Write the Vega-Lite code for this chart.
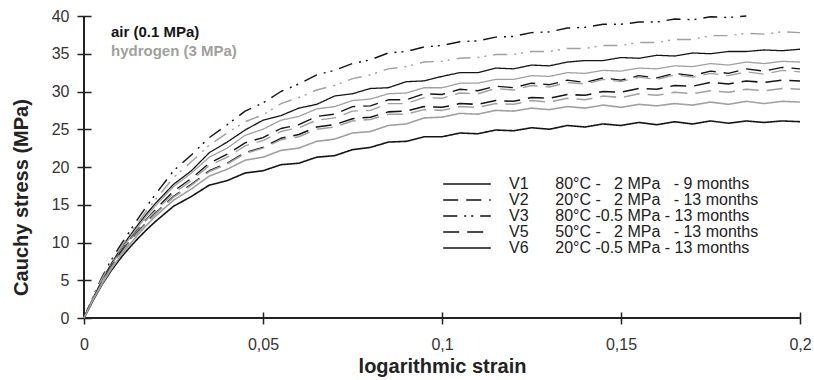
{
  "$schema": "https://vega.github.io/schema/vega-lite/v6.json",
  "width": 716,
  "height": 302,
  "autosize": {"type": "none"},
  "padding": {"left": 84, "top": 16, "right": 14, "bottom": 62},
  "background": "white",
  "config": {
    "view": {"stroke": null},
    "font": "Liberation Sans",
    "axisX": {
      "domain": false, "grid": false,
      "offset": -6, "tickSize": 12, "tickWidth": 1.5, "tickColor": "#222",
      "labelFontSize": 16, "labelColor": "#333", "labelPadding": 12, "labelFlush": false,
      "titleFontSize": 20, "titleFontWeight": "bold", "titleColor": "#222", "titlePadding": 4
    },
    "axisY": {
      "domain": false, "grid": false,
      "offset": -7, "tickSize": 14, "tickWidth": 1.5, "tickColor": "#222",
      "labelFontSize": 16, "labelColor": "#333", "labelPadding": 8,
      "titleFontSize": 20, "titleFontWeight": "bold", "titleColor": "#222", "titlePadding": 20, "titleY": 181
    }
  },
  "datasets": {
    "curves": [
      {"v":"V1","e":"air","x":0,"y":0},{"v":"V1","e":"air","x":0.0025,"y":2.6},{"v":"V1","e":"air","x":0.005,"y":5.0},{"v":"V1","e":"air","x":0.0075,"y":7.1},{"v":"V1","e":"air","x":0.01,"y":9.0},{"v":"V1","e":"air","x":0.0125,"y":10.7},{"v":"V1","e":"air","x":0.015,"y":12.3},{"v":"V1","e":"air","x":0.0175,"y":13.8},{"v":"V1","e":"air","x":0.02,"y":15.2},{"v":"V1","e":"air","x":0.025,"y":17.7},{"v":"V1","e":"air","x":0.03,"y":19.5},{"v":"V1","e":"air","x":0.035,"y":21.9},{"v":"V1","e":"air","x":0.04,"y":23.3},{"v":"V1","e":"air","x":0.045,"y":24.9},{"v":"V1","e":"air","x":0.05,"y":26.2},{"v":"V1","e":"air","x":0.055,"y":26.8},{"v":"V1","e":"air","x":0.06,"y":27.8},{"v":"V1","e":"air","x":0.065,"y":28.3},{"v":"V1","e":"air","x":0.07,"y":29.4},{"v":"V1","e":"air","x":0.075,"y":29.7},{"v":"V1","e":"air","x":0.08,"y":30.4},{"v":"V1","e":"air","x":0.085,"y":30.5},{"v":"V1","e":"air","x":0.09,"y":31.3},{"v":"V1","e":"air","x":0.095,"y":31.4},{"v":"V1","e":"air","x":0.1,"y":32.0},{"v":"V1","e":"air","x":0.105,"y":32.5},{"v":"V1","e":"air","x":0.11,"y":32.5},{"v":"V1","e":"air","x":0.115,"y":33.1},{"v":"V1","e":"air","x":0.12,"y":33.0},{"v":"V1","e":"air","x":0.125,"y":33.5},{"v":"V1","e":"air","x":0.13,"y":33.4},{"v":"V1","e":"air","x":0.135,"y":33.9},{"v":"V1","e":"air","x":0.14,"y":34.1},{"v":"V1","e":"air","x":0.145,"y":34.1},{"v":"V1","e":"air","x":0.15,"y":34.5},{"v":"V1","e":"air","x":0.155,"y":34.4},{"v":"V1","e":"air","x":0.16,"y":34.8},{"v":"V1","e":"air","x":0.165,"y":34.7},{"v":"V1","e":"air","x":0.17,"y":35.1},{"v":"V1","e":"air","x":0.175,"y":35.0},{"v":"V1","e":"air","x":0.18,"y":35.3},{"v":"V1","e":"air","x":0.185,"y":35.3},{"v":"V1","e":"air","x":0.19,"y":35.5},{"v":"V1","e":"air","x":0.195,"y":35.4},{"v":"V1","e":"air","x":0.2,"y":35.6},

      {"v":"V1","e":"h2","x":0,"y":0},{"v":"V1","e":"h2","x":0.0025,"y":2.5},{"v":"V1","e":"h2","x":0.005,"y":4.8},{"v":"V1","e":"h2","x":0.0075,"y":6.9},{"v":"V1","e":"h2","x":0.01,"y":8.7},{"v":"V1","e":"h2","x":0.0125,"y":10.4},{"v":"V1","e":"h2","x":0.015,"y":12.0},{"v":"V1","e":"h2","x":0.0175,"y":13.5},{"v":"V1","e":"h2","x":0.02,"y":14.9},{"v":"V1","e":"h2","x":0.025,"y":17.4},{"v":"V1","e":"h2","x":0.03,"y":19.2},{"v":"V1","e":"h2","x":0.035,"y":21.3},{"v":"V1","e":"h2","x":0.04,"y":22.5},{"v":"V1","e":"h2","x":0.045,"y":24.2},{"v":"V1","e":"h2","x":0.05,"y":25.0},{"v":"V1","e":"h2","x":0.055,"y":26.2},{"v":"V1","e":"h2","x":0.06,"y":26.7},{"v":"V1","e":"h2","x":0.065,"y":27.7},{"v":"V1","e":"h2","x":0.07,"y":28.0},{"v":"V1","e":"h2","x":0.075,"y":28.8},{"v":"V1","e":"h2","x":0.08,"y":29.0},{"v":"V1","e":"h2","x":0.085,"y":29.7},{"v":"V1","e":"h2","x":0.09,"y":29.8},{"v":"V1","e":"h2","x":0.095,"y":30.5},{"v":"V1","e":"h2","x":0.1,"y":30.5},{"v":"V1","e":"h2","x":0.105,"y":31.1},{"v":"V1","e":"h2","x":0.11,"y":31.1},{"v":"V1","e":"h2","x":0.115,"y":31.6},{"v":"V1","e":"h2","x":0.12,"y":31.6},{"v":"V1","e":"h2","x":0.125,"y":32.1},{"v":"V1","e":"h2","x":0.13,"y":32.0},{"v":"V1","e":"h2","x":0.135,"y":32.5},{"v":"V1","e":"h2","x":0.14,"y":32.4},{"v":"V1","e":"h2","x":0.145,"y":32.8},{"v":"V1","e":"h2","x":0.15,"y":32.7},{"v":"V1","e":"h2","x":0.155,"y":33.1},{"v":"V1","e":"h2","x":0.16,"y":33.0},{"v":"V1","e":"h2","x":0.165,"y":33.4},{"v":"V1","e":"h2","x":0.17,"y":33.3},{"v":"V1","e":"h2","x":0.175,"y":33.7},{"v":"V1","e":"h2","x":0.18,"y":33.5},{"v":"V1","e":"h2","x":0.185,"y":33.9},{"v":"V1","e":"h2","x":0.19,"y":33.7},{"v":"V1","e":"h2","x":0.195,"y":34.0},{"v":"V1","e":"h2","x":0.2,"y":33.9},

      {"v":"V2","e":"air","x":0,"y":0},{"v":"V2","e":"air","x":0.0025,"y":2.5},{"v":"V2","e":"air","x":0.005,"y":4.8},{"v":"V2","e":"air","x":0.0075,"y":6.8},{"v":"V2","e":"air","x":0.01,"y":8.6},{"v":"V2","e":"air","x":0.0125,"y":10.2},{"v":"V2","e":"air","x":0.015,"y":11.7},{"v":"V2","e":"air","x":0.0175,"y":13.1},{"v":"V2","e":"air","x":0.02,"y":14.4},{"v":"V2","e":"air","x":0.025,"y":16.8},{"v":"V2","e":"air","x":0.03,"y":18.5},{"v":"V2","e":"air","x":0.035,"y":20.5},{"v":"V2","e":"air","x":0.04,"y":21.7},{"v":"V2","e":"air","x":0.045,"y":23.2},{"v":"V2","e":"air","x":0.05,"y":23.9},{"v":"V2","e":"air","x":0.055,"y":25.1},{"v":"V2","e":"air","x":0.06,"y":25.6},{"v":"V2","e":"air","x":0.065,"y":26.7},{"v":"V2","e":"air","x":0.07,"y":27.0},{"v":"V2","e":"air","x":0.075,"y":28.0},{"v":"V2","e":"air","x":0.08,"y":28.1},{"v":"V2","e":"air","x":0.085,"y":28.9},{"v":"V2","e":"air","x":0.09,"y":28.9},{"v":"V2","e":"air","x":0.095,"y":29.7},{"v":"V2","e":"air","x":0.1,"y":29.6},{"v":"V2","e":"air","x":0.105,"y":30.3},{"v":"V2","e":"air","x":0.11,"y":30.1},{"v":"V2","e":"air","x":0.115,"y":30.7},{"v":"V2","e":"air","x":0.12,"y":30.5},{"v":"V2","e":"air","x":0.125,"y":31.1},{"v":"V2","e":"air","x":0.13,"y":30.9},{"v":"V2","e":"air","x":0.135,"y":31.5},{"v":"V2","e":"air","x":0.14,"y":31.2},{"v":"V2","e":"air","x":0.145,"y":31.8},{"v":"V2","e":"air","x":0.15,"y":31.5},{"v":"V2","e":"air","x":0.155,"y":32.1},{"v":"V2","e":"air","x":0.16,"y":31.8},{"v":"V2","e":"air","x":0.165,"y":32.4},{"v":"V2","e":"air","x":0.17,"y":32.1},{"v":"V2","e":"air","x":0.175,"y":32.7},{"v":"V2","e":"air","x":0.18,"y":32.4},{"v":"V2","e":"air","x":0.185,"y":33.0},{"v":"V2","e":"air","x":0.19,"y":32.7},{"v":"V2","e":"air","x":0.195,"y":33.2},{"v":"V2","e":"air","x":0.2,"y":33.0},

      {"v":"V2","e":"h2","x":0,"y":0},{"v":"V2","e":"h2","x":0.0025,"y":2.5},{"v":"V2","e":"h2","x":0.005,"y":4.7},{"v":"V2","e":"h2","x":0.0075,"y":6.7},{"v":"V2","e":"h2","x":0.01,"y":8.5},{"v":"V2","e":"h2","x":0.0125,"y":10.1},{"v":"V2","e":"h2","x":0.015,"y":11.6},{"v":"V2","e":"h2","x":0.0175,"y":13.0},{"v":"V2","e":"h2","x":0.02,"y":14.2},{"v":"V2","e":"h2","x":0.025,"y":16.5},{"v":"V2","e":"h2","x":0.03,"y":18.2},{"v":"V2","e":"h2","x":0.035,"y":20.2},{"v":"V2","e":"h2","x":0.04,"y":21.3},{"v":"V2","e":"h2","x":0.045,"y":22.8},{"v":"V2","e":"h2","x":0.05,"y":23.5},{"v":"V2","e":"h2","x":0.055,"y":24.7},{"v":"V2","e":"h2","x":0.06,"y":25.2},{"v":"V2","e":"h2","x":0.065,"y":26.2},{"v":"V2","e":"h2","x":0.07,"y":26.5},{"v":"V2","e":"h2","x":0.075,"y":27.4},{"v":"V2","e":"h2","x":0.08,"y":27.5},{"v":"V2","e":"h2","x":0.085,"y":28.4},{"v":"V2","e":"h2","x":0.09,"y":28.4},{"v":"V2","e":"h2","x":0.095,"y":29.2},{"v":"V2","e":"h2","x":0.1,"y":29.1},{"v":"V2","e":"h2","x":0.105,"y":29.8},{"v":"V2","e":"h2","x":0.11,"y":29.7},{"v":"V2","e":"h2","x":0.115,"y":30.4},{"v":"V2","e":"h2","x":0.12,"y":30.2},{"v":"V2","e":"h2","x":0.125,"y":30.8},{"v":"V2","e":"h2","x":0.13,"y":30.6},{"v":"V2","e":"h2","x":0.135,"y":31.2},{"v":"V2","e":"h2","x":0.14,"y":31.0},{"v":"V2","e":"h2","x":0.145,"y":31.6},{"v":"V2","e":"h2","x":0.15,"y":31.3},{"v":"V2","e":"h2","x":0.155,"y":31.9},{"v":"V2","e":"h2","x":0.16,"y":31.6},{"v":"V2","e":"h2","x":0.165,"y":32.2},{"v":"V2","e":"h2","x":0.17,"y":31.9},{"v":"V2","e":"h2","x":0.175,"y":32.4},{"v":"V2","e":"h2","x":0.18,"y":32.1},{"v":"V2","e":"h2","x":0.185,"y":32.6},{"v":"V2","e":"h2","x":0.19,"y":32.3},{"v":"V2","e":"h2","x":0.195,"y":32.8},{"v":"V2","e":"h2","x":0.2,"y":32.6},

      {"v":"V3","e":"air","x":0,"y":0},{"v":"V3","e":"air","x":0.0025,"y":2.8},{"v":"V3","e":"air","x":0.005,"y":5.4},{"v":"V3","e":"air","x":0.0075,"y":7.6},{"v":"V3","e":"air","x":0.01,"y":9.5},{"v":"V3","e":"air","x":0.0125,"y":11.3},{"v":"V3","e":"air","x":0.015,"y":13.1},{"v":"V3","e":"air","x":0.0175,"y":14.8},{"v":"V3","e":"air","x":0.02,"y":16.4},{"v":"V3","e":"air","x":0.025,"y":19.5},{"v":"V3","e":"air","x":0.03,"y":21.6},{"v":"V3","e":"air","x":0.035,"y":23.9},{"v":"V3","e":"air","x":0.04,"y":25.6},{"v":"V3","e":"air","x":0.045,"y":27.4},{"v":"V3","e":"air","x":0.05,"y":28.5},{"v":"V3","e":"air","x":0.055,"y":30.0},{"v":"V3","e":"air","x":0.06,"y":31.0},{"v":"V3","e":"air","x":0.065,"y":32.2},{"v":"V3","e":"air","x":0.07,"y":32.8},{"v":"V3","e":"air","x":0.075,"y":33.7},{"v":"V3","e":"air","x":0.08,"y":34.2},{"v":"V3","e":"air","x":0.085,"y":35.1},{"v":"V3","e":"air","x":0.09,"y":35.3},{"v":"V3","e":"air","x":0.095,"y":35.9},{"v":"V3","e":"air","x":0.1,"y":36.1},{"v":"V3","e":"air","x":0.105,"y":36.6},{"v":"V3","e":"air","x":0.11,"y":36.7},{"v":"V3","e":"air","x":0.115,"y":37.2},{"v":"V3","e":"air","x":0.12,"y":37.3},{"v":"V3","e":"air","x":0.125,"y":37.8},{"v":"V3","e":"air","x":0.13,"y":37.9},{"v":"V3","e":"air","x":0.135,"y":38.4},{"v":"V3","e":"air","x":0.14,"y":38.5},{"v":"V3","e":"air","x":0.145,"y":38.9},{"v":"V3","e":"air","x":0.15,"y":38.9},{"v":"V3","e":"air","x":0.155,"y":39.2},{"v":"V3","e":"air","x":0.16,"y":39.2},{"v":"V3","e":"air","x":0.165,"y":39.6},{"v":"V3","e":"air","x":0.17,"y":39.5},{"v":"V3","e":"air","x":0.175,"y":39.9},{"v":"V3","e":"air","x":0.18,"y":39.8},{"v":"V3","e":"air","x":0.185,"y":40.0},

      {"v":"V3","e":"h2","x":0,"y":0},{"v":"V3","e":"h2","x":0.0025,"y":2.7},{"v":"V3","e":"h2","x":0.005,"y":5.2},{"v":"V3","e":"h2","x":0.0075,"y":7.3},{"v":"V3","e":"h2","x":0.01,"y":9.1},{"v":"V3","e":"h2","x":0.0125,"y":10.9},{"v":"V3","e":"h2","x":0.015,"y":12.6},{"v":"V3","e":"h2","x":0.0175,"y":14.2},{"v":"V3","e":"h2","x":0.02,"y":15.7},{"v":"V3","e":"h2","x":0.025,"y":18.6},{"v":"V3","e":"h2","x":0.03,"y":20.7},{"v":"V3","e":"h2","x":0.035,"y":22.9},{"v":"V3","e":"h2","x":0.04,"y":24.5},{"v":"V3","e":"h2","x":0.045,"y":26.0},{"v":"V3","e":"h2","x":0.05,"y":26.9},{"v":"V3","e":"h2","x":0.055,"y":28.4},{"v":"V3","e":"h2","x":0.06,"y":29.2},{"v":"V3","e":"h2","x":0.065,"y":30.2},{"v":"V3","e":"h2","x":0.07,"y":30.8},{"v":"V3","e":"h2","x":0.075,"y":31.7},{"v":"V3","e":"h2","x":0.08,"y":32.2},{"v":"V3","e":"h2","x":0.085,"y":33.0},{"v":"V3","e":"h2","x":0.09,"y":33.3},{"v":"V3","e":"h2","x":0.095,"y":33.9},{"v":"V3","e":"h2","x":0.1,"y":34.0},{"v":"V3","e":"h2","x":0.105,"y":34.4},{"v":"V3","e":"h2","x":0.11,"y":34.5},{"v":"V3","e":"h2","x":0.115,"y":34.9},{"v":"V3","e":"h2","x":0.12,"y":34.9},{"v":"V3","e":"h2","x":0.125,"y":35.3},{"v":"V3","e":"h2","x":0.13,"y":35.3},{"v":"V3","e":"h2","x":0.135,"y":35.7},{"v":"V3","e":"h2","x":0.14,"y":35.7},{"v":"V3","e":"h2","x":0.145,"y":36.1},{"v":"V3","e":"h2","x":0.15,"y":36.1},{"v":"V3","e":"h2","x":0.155,"y":36.5},{"v":"V3","e":"h2","x":0.16,"y":36.5},{"v":"V3","e":"h2","x":0.165,"y":36.9},{"v":"V3","e":"h2","x":0.17,"y":36.9},{"v":"V3","e":"h2","x":0.175,"y":37.4},{"v":"V3","e":"h2","x":0.18,"y":37.4},{"v":"V3","e":"h2","x":0.185,"y":37.7},{"v":"V3","e":"h2","x":0.19,"y":37.6},{"v":"V3","e":"h2","x":0.195,"y":37.9},{"v":"V3","e":"h2","x":0.2,"y":37.8},

      {"v":"V5","e":"air","x":0,"y":0},{"v":"V5","e":"air","x":0.0025,"y":2.5},{"v":"V5","e":"air","x":0.005,"y":4.7},{"v":"V5","e":"air","x":0.0075,"y":6.7},{"v":"V5","e":"air","x":0.01,"y":8.5},{"v":"V5","e":"air","x":0.0125,"y":10.0},{"v":"V5","e":"air","x":0.015,"y":11.4},{"v":"V5","e":"air","x":0.0175,"y":12.7},{"v":"V5","e":"air","x":0.02,"y":13.9},{"v":"V5","e":"air","x":0.025,"y":16.1},{"v":"V5","e":"air","x":0.03,"y":17.7},{"v":"V5","e":"air","x":0.035,"y":19.5},{"v":"V5","e":"air","x":0.04,"y":20.5},{"v":"V5","e":"air","x":0.045,"y":21.9},{"v":"V5","e":"air","x":0.05,"y":22.6},{"v":"V5","e":"air","x":0.055,"y":23.8},{"v":"V5","e":"air","x":0.06,"y":24.3},{"v":"V5","e":"air","x":0.065,"y":25.3},{"v":"V5","e":"air","x":0.07,"y":25.6},{"v":"V5","e":"air","x":0.075,"y":26.4},{"v":"V5","e":"air","x":0.08,"y":26.6},{"v":"V5","e":"air","x":0.085,"y":27.3},{"v":"V5","e":"air","x":0.09,"y":27.4},{"v":"V5","e":"air","x":0.095,"y":28.0},{"v":"V5","e":"air","x":0.1,"y":27.9},{"v":"V5","e":"air","x":0.105,"y":28.4},{"v":"V5","e":"air","x":0.11,"y":28.3},{"v":"V5","e":"air","x":0.115,"y":28.8},{"v":"V5","e":"air","x":0.12,"y":28.7},{"v":"V5","e":"air","x":0.125,"y":29.2},{"v":"V5","e":"air","x":0.13,"y":29.1},{"v":"V5","e":"air","x":0.135,"y":29.6},{"v":"V5","e":"air","x":0.14,"y":29.5},{"v":"V5","e":"air","x":0.145,"y":30.0},{"v":"V5","e":"air","x":0.15,"y":29.9},{"v":"V5","e":"air","x":0.155,"y":30.4},{"v":"V5","e":"air","x":0.16,"y":30.3},{"v":"V5","e":"air","x":0.165,"y":30.8},{"v":"V5","e":"air","x":0.17,"y":30.7},{"v":"V5","e":"air","x":0.175,"y":31.2},{"v":"V5","e":"air","x":0.18,"y":31.0},{"v":"V5","e":"air","x":0.185,"y":31.4},{"v":"V5","e":"air","x":0.19,"y":31.2},{"v":"V5","e":"air","x":0.195,"y":31.5},{"v":"V5","e":"air","x":0.2,"y":31.4},

      {"v":"V5","e":"h2","x":0,"y":0},{"v":"V5","e":"h2","x":0.0025,"y":2.4},{"v":"V5","e":"h2","x":0.005,"y":4.6},{"v":"V5","e":"h2","x":0.0075,"y":6.6},{"v":"V5","e":"h2","x":0.01,"y":8.3},{"v":"V5","e":"h2","x":0.0125,"y":9.9},{"v":"V5","e":"h2","x":0.015,"y":11.3},{"v":"V5","e":"h2","x":0.0175,"y":12.6},{"v":"V5","e":"h2","x":0.02,"y":13.8},{"v":"V5","e":"h2","x":0.025,"y":16.0},{"v":"V5","e":"h2","x":0.03,"y":17.6},{"v":"V5","e":"h2","x":0.035,"y":19.4},{"v":"V5","e":"h2","x":0.04,"y":20.4},{"v":"V5","e":"h2","x":0.045,"y":21.8},{"v":"V5","e":"h2","x":0.05,"y":22.5},{"v":"V5","e":"h2","x":0.055,"y":23.6},{"v":"V5","e":"h2","x":0.06,"y":24.0},{"v":"V5","e":"h2","x":0.065,"y":25.0},{"v":"V5","e":"h2","x":0.07,"y":25.3},{"v":"V5","e":"h2","x":0.075,"y":26.1},{"v":"V5","e":"h2","x":0.08,"y":26.3},{"v":"V5","e":"h2","x":0.085,"y":27.0},{"v":"V5","e":"h2","x":0.09,"y":27.0},{"v":"V5","e":"h2","x":0.095,"y":27.6},{"v":"V5","e":"h2","x":0.1,"y":27.5},{"v":"V5","e":"h2","x":0.105,"y":28.0},{"v":"V5","e":"h2","x":0.11,"y":27.9},{"v":"V5","e":"h2","x":0.115,"y":28.4},{"v":"V5","e":"h2","x":0.12,"y":28.3},{"v":"V5","e":"h2","x":0.125,"y":28.8},{"v":"V5","e":"h2","x":0.13,"y":28.6},{"v":"V5","e":"h2","x":0.135,"y":29.1},{"v":"V5","e":"h2","x":0.14,"y":28.9},{"v":"V5","e":"h2","x":0.145,"y":29.4},{"v":"V5","e":"h2","x":0.15,"y":29.2},{"v":"V5","e":"h2","x":0.155,"y":29.7},{"v":"V5","e":"h2","x":0.16,"y":29.5},{"v":"V5","e":"h2","x":0.165,"y":29.9},{"v":"V5","e":"h2","x":0.17,"y":29.7},{"v":"V5","e":"h2","x":0.175,"y":30.1},{"v":"V5","e":"h2","x":0.18,"y":29.9},{"v":"V5","e":"h2","x":0.185,"y":30.3},{"v":"V5","e":"h2","x":0.19,"y":30.1},{"v":"V5","e":"h2","x":0.195,"y":30.4},{"v":"V5","e":"h2","x":0.2,"y":30.3},

      {"v":"V6","e":"air","x":0,"y":0},{"v":"V6","e":"air","x":0.0025,"y":2.3},{"v":"V6","e":"air","x":0.005,"y":4.4},{"v":"V6","e":"air","x":0.0075,"y":6.2},{"v":"V6","e":"air","x":0.01,"y":7.8},{"v":"V6","e":"air","x":0.0125,"y":9.2},{"v":"V6","e":"air","x":0.015,"y":10.5},{"v":"V6","e":"air","x":0.0175,"y":11.7},{"v":"V6","e":"air","x":0.02,"y":12.8},{"v":"V6","e":"air","x":0.025,"y":14.8},{"v":"V6","e":"air","x":0.03,"y":16.1},{"v":"V6","e":"air","x":0.035,"y":17.6},{"v":"V6","e":"air","x":0.04,"y":18.2},{"v":"V6","e":"air","x":0.045,"y":19.2},{"v":"V6","e":"air","x":0.05,"y":19.5},{"v":"V6","e":"air","x":0.055,"y":20.3},{"v":"V6","e":"air","x":0.06,"y":20.5},{"v":"V6","e":"air","x":0.065,"y":21.3},{"v":"V6","e":"air","x":0.07,"y":21.5},{"v":"V6","e":"air","x":0.075,"y":22.3},{"v":"V6","e":"air","x":0.08,"y":22.6},{"v":"V6","e":"air","x":0.085,"y":23.3},{"v":"V6","e":"air","x":0.09,"y":23.4},{"v":"V6","e":"air","x":0.095,"y":24.0},{"v":"V6","e":"air","x":0.1,"y":24.0},{"v":"V6","e":"air","x":0.105,"y":24.5},{"v":"V6","e":"air","x":0.11,"y":24.4},{"v":"V6","e":"air","x":0.115,"y":24.9},{"v":"V6","e":"air","x":0.12,"y":24.8},{"v":"V6","e":"air","x":0.125,"y":25.2},{"v":"V6","e":"air","x":0.13,"y":25.0},{"v":"V6","e":"air","x":0.135,"y":25.5},{"v":"V6","e":"air","x":0.14,"y":25.3},{"v":"V6","e":"air","x":0.145,"y":25.7},{"v":"V6","e":"air","x":0.15,"y":25.5},{"v":"V6","e":"air","x":0.155,"y":25.9},{"v":"V6","e":"air","x":0.16,"y":25.6},{"v":"V6","e":"air","x":0.165,"y":26.0},{"v":"V6","e":"air","x":0.17,"y":25.7},{"v":"V6","e":"air","x":0.175,"y":26.1},{"v":"V6","e":"air","x":0.18,"y":25.8},{"v":"V6","e":"air","x":0.185,"y":26.1},{"v":"V6","e":"air","x":0.19,"y":25.9},{"v":"V6","e":"air","x":0.195,"y":26.1},{"v":"V6","e":"air","x":0.2,"y":26.0},

      {"v":"V6","e":"h2","x":0,"y":0},{"v":"V6","e":"h2","x":0.0025,"y":2.4},{"v":"V6","e":"h2","x":0.005,"y":4.5},{"v":"V6","e":"h2","x":0.0075,"y":6.4},{"v":"V6","e":"h2","x":0.01,"y":8.1},{"v":"V6","e":"h2","x":0.0125,"y":9.6},{"v":"V6","e":"h2","x":0.015,"y":11.0},{"v":"V6","e":"h2","x":0.0175,"y":12.3},{"v":"V6","e":"h2","x":0.02,"y":13.5},{"v":"V6","e":"h2","x":0.025,"y":15.6},{"v":"V6","e":"h2","x":0.03,"y":17.1},{"v":"V6","e":"h2","x":0.035,"y":18.8},{"v":"V6","e":"h2","x":0.04,"y":19.7},{"v":"V6","e":"h2","x":0.045,"y":20.9},{"v":"V6","e":"h2","x":0.05,"y":21.3},{"v":"V6","e":"h2","x":0.055,"y":22.2},{"v":"V6","e":"h2","x":0.06,"y":22.5},{"v":"V6","e":"h2","x":0.065,"y":23.4},{"v":"V6","e":"h2","x":0.07,"y":23.7},{"v":"V6","e":"h2","x":0.075,"y":24.5},{"v":"V6","e":"h2","x":0.08,"y":24.7},{"v":"V6","e":"h2","x":0.085,"y":25.5},{"v":"V6","e":"h2","x":0.09,"y":25.7},{"v":"V6","e":"h2","x":0.095,"y":26.5},{"v":"V6","e":"h2","x":0.1,"y":26.6},{"v":"V6","e":"h2","x":0.105,"y":27.1},{"v":"V6","e":"h2","x":0.11,"y":27.0},{"v":"V6","e":"h2","x":0.115,"y":27.5},{"v":"V6","e":"h2","x":0.12,"y":27.4},{"v":"V6","e":"h2","x":0.125,"y":27.8},{"v":"V6","e":"h2","x":0.13,"y":27.6},{"v":"V6","e":"h2","x":0.135,"y":28.0},{"v":"V6","e":"h2","x":0.14,"y":27.8},{"v":"V6","e":"h2","x":0.145,"y":28.2},{"v":"V6","e":"h2","x":0.15,"y":27.9},{"v":"V6","e":"h2","x":0.155,"y":28.3},{"v":"V6","e":"h2","x":0.16,"y":28.1},{"v":"V6","e":"h2","x":0.165,"y":28.4},{"v":"V6","e":"h2","x":0.17,"y":28.2},{"v":"V6","e":"h2","x":0.175,"y":28.6},{"v":"V6","e":"h2","x":0.18,"y":28.3},{"v":"V6","e":"h2","x":0.185,"y":28.7},{"v":"V6","e":"h2","x":0.19,"y":28.4},{"v":"V6","e":"h2","x":0.195,"y":28.7},{"v":"V6","e":"h2","x":0.2,"y":28.6}
    ]
  },
  "layer": [
    {
      "data": {"values": [{}]},
      "mark": {"type": "rule", "color": "#222", "strokeWidth": 2},
      "encoding": {
        "x": {"datum": 0, "type": "quantitative", "scale": {"domain": [0, 0.2], "nice": false, "zero": false},
          "axis": {"title": "logarithmic strain", "values": [0, 0.05, 0.1, 0.15, 0.2], "labelExpr": "replace(toString(datum.value), '.', ',')"}}
      }
    },
    {
      "data": {"values": [{}]},
      "mark": {"type": "rule", "color": "#222", "strokeWidth": 2},
      "encoding": {
        "y": {"datum": 0, "type": "quantitative", "scale": {"domain": [0, 40], "nice": false},
          "axis": {"title": "Cauchy stress (MPa)", "values": [0, 5, 10, 15, 20, 25, 30, 35, 40]}}
      }
    },
    {
      "data": {"name": "curves"},
      "mark": {"type": "line", "strokeCap": "butt", "strokeJoin": "round"},
      "encoding": {
        "x": {
          "field": "x", "type": "quantitative",
          "scale": {"domain": [0, 0.2], "nice": false, "zero": false},
          "axis": {"title": "logarithmic strain", "values": [0, 0.05, 0.1, 0.15, 0.2], "labelExpr": "replace(toString(datum.value), '.', ',')"}
        },
        "y": {
          "field": "y", "type": "quantitative",
          "scale": {"domain": [0, 40], "nice": false},
          "axis": {"title": "Cauchy stress (MPa)", "values": [0, 5, 10, 15, 20, 25, 30, 35, 40]}
        },
        "color": {
          "field": "e", "type": "nominal",
          "scale": {"domain": ["air", "h2"], "range": ["#151515", "#a0a0a0"]},
          "legend": {
            "title": null, "orient": "none", "legendX": 12, "legendY": 8, "padding": 0,
            "symbolSize": 0, "symbolStrokeWidth": 0, "symbolOpacity": 0,
            "labelOffset": 0, "labelFontSize": 15, "labelFontWeight": "bold",
            "labelFont": "Liberation Sans", "rowPadding": 3, "labelLimit": 300,
            "labelExpr": "datum.label == 'air' ? 'air (0.1 MPa)' : 'hydrogen (3 MPa)'",
            "encode": {"labels": {"update": {"fill": {"signal": "datum.value == 'air' ? '#151515' : '#a0a0a0'"}}}}
          }
        },
        "strokeDash": {
          "field": "v", "type": "nominal",
          "scale": {"domain": ["V1", "V2", "V3", "V5", "V6"], "range": [[1, 0], [15, 8], [14, 7, 2, 5, 2, 7], [16, 8], [1, 0]]},
          "legend": {
            "title": null, "orient": "none", "legendX": 375, "legendY": 160, "padding": 0,
            "symbolType": "M-3.4,0H3.4", "symbolSize": 196, "symbolStrokeColor": "#111",
            "symbolStrokeWidth": {"expr": "{'V1':1.5,'V2':2,'V3':2.2,'V5':3.6,'V6':4.2}[datum.value]"},
            "labelFontSize": 16, "labelColor": "#222", "labelFont": "Liberation Sans",
            "labelOffset": 34, "rowPadding": 0, "labelLimit": 500,
            "labelExpr": "{'V1':'V1\u00a0\u00a0\u00a0\u00a0\u00a0\u00a080°C -\u00a0\u00a0\u00a02 MPa\u00a0\u00a0\u00a0- 9 months','V2':'V2\u00a0\u00a0\u00a0\u00a0\u00a0\u00a020°C -\u00a0\u00a0\u00a02 MPa\u00a0\u00a0\u00a0- 13 months','V3':'V3\u00a0\u00a0\u00a0\u00a0\u00a0\u00a080°C -0.5 MPa - 13 months','V5':'V5\u00a0\u00a0\u00a0\u00a0\u00a0\u00a050°C -\u00a0\u00a0\u00a02 MPa\u00a0\u00a0\u00a0- 13 months','V6':'V6\u00a0\u00a0\u00a0\u00a0\u00a0\u00a020°C -0.5 MPa - 13 months'}[datum.label]"
          }
        },
        "strokeWidth": {
          "field": "v", "type": "nominal",
          "scale": {"domain": ["V1", "V2", "V3", "V5", "V6"], "range": [1.3, 1.6, 2.6, 2.8, 2.6]},
          "legend": {
            "title": null, "orient": "none", "legendX": 375, "legendY": 160, "padding": 0,
            "symbolType": "M-3.4,0H3.4", "symbolSize": 196, "symbolStrokeColor": "#111",
            "symbolStrokeWidth": {"expr": "{'V1':1.5,'V2':2,'V3':2.2,'V5':3.6,'V6':4.2}[datum.value]"},
            "labelFontSize": 16, "labelColor": "#222", "labelFont": "Liberation Sans",
            "labelOffset": 34, "rowPadding": 0, "labelLimit": 500,
            "labelExpr": "{'V1':'V1\u00a0\u00a0\u00a0\u00a0\u00a0\u00a080°C -\u00a0\u00a0\u00a02 MPa\u00a0\u00a0\u00a0- 9 months','V2':'V2\u00a0\u00a0\u00a0\u00a0\u00a0\u00a020°C -\u00a0\u00a0\u00a02 MPa\u00a0\u00a0\u00a0- 13 months','V3':'V3\u00a0\u00a0\u00a0\u00a0\u00a0\u00a080°C -0.5 MPa - 13 months','V5':'V5\u00a0\u00a0\u00a0\u00a0\u00a0\u00a050°C -\u00a0\u00a0\u00a02 MPa\u00a0\u00a0\u00a0- 13 months','V6':'V6\u00a0\u00a0\u00a0\u00a0\u00a0\u00a020°C -0.5 MPa - 13 months'}[datum.label]"
          }
        }
      }
    }
  ]
}
